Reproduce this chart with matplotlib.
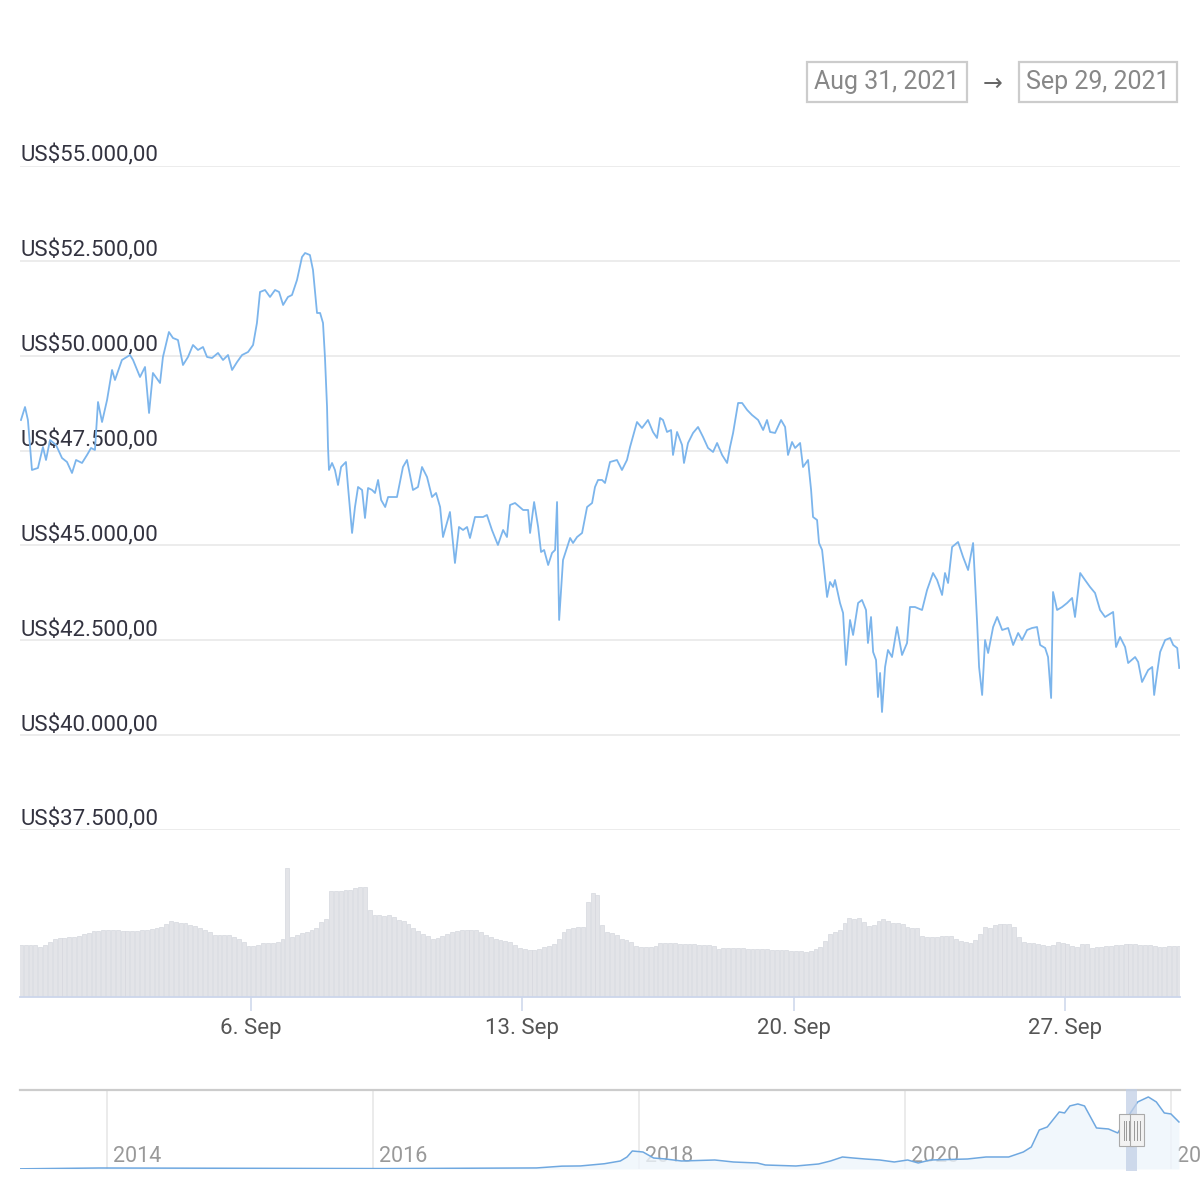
import numpy as np
import matplotlib
matplotlib.use("Agg")
import matplotlib.pyplot as plt
from matplotlib.patches import Rectangle

plt.rcParams['font.family'] = ['Roboto', 'DejaVu Sans']

# ---------------- data ----------------
# hours since 2021-08-31 00:00
price_hours = [1.6, 4.1, 5.9, 8.4, 12.1, 15.2, 17.1, 19.6, 23.3, 27.0, 30.1, 33.2, 35.7, 39.4, 42.5, 45.0,
               47.4, 49.3, 51.8, 54.9, 58.0, 59.8, 64.1, 69.1, 71.0, 75.3, 78.4, 80.9, 83.3, 87.7, 89.5, 93.2,
               95.7, 98.8, 101.9, 105.0, 108.1, 111.2, 114.3, 116.8, 119.9, 123.6, 126.7, 129.8, 132.3, 135.4,
               138.5, 142.2, 145.3, 147.7, 149.6, 152.7, 155.8, 158.9, 161.4, 163.9, 166.9, 169.4, 172.5, 175.6,
               177.5, 180.5, 182.4, 184.9, 186.8, 188.6, 189.8, 191.1, 191.7, 192.3, 194.2, 196.0, 197.9, 199.8,
               202.8, 204.1, 206.6, 208.4, 210.3, 212.8, 214.6, 216.5, 219.0, 220.8, 222.7, 224.6, 227.1, 228.9,
               234.4, 238.1, 240.6, 244.3, 247.4, 249.9, 253.0, 256.1, 258.6, 261.1, 262.9, 267.2, 270.3, 272.8,
               275.3, 277.8, 279.6, 282.7, 287.7, 290.1, 293.2, 296.9, 300.1, 302.5, 304.4, 307.5, 312.5, 315.6,
               316.8, 319.3, 321.8, 323.6, 325.5, 328.0, 330.4, 332.3, 333.5, 334.8, 337.2, 341.6, 343.4, 345.9,
               349.0, 352.1, 355.2, 357.0, 358.9, 361.4, 363.2, 366.3, 370.6, 373.7, 376.8, 378.7, 383.0, 386.1,
               389.8, 392.9, 395.4, 397.3, 399.1, 401.6, 404.1, 405.3, 407.8, 410.9, 412.1, 414.6, 417.7, 420.8,
               423.9, 427.0, 430.1, 432.6, 435.7, 438.8, 440.6, 442.5, 445.6, 448.1, 451.2, 454.2, 458.0, 461.1,
               463.5, 465.4, 468.5, 472.2, 474.7, 476.5, 479.0, 480.9, 484.0, 485.8, 488.9, 490.8, 492.0, 494.5,
               495.7, 497.6, 500.7, 502.5, 504.4, 505.6, 508.7, 510.6, 512.4, 514.9, 516.8, 519.9, 522.3, 524.8,
               526.0, 527.9, 529.2, 531.0, 532.2, 533.5, 534.7, 536.6, 538.4, 540.9, 544.0, 547.1, 550.2, 552.0,
               555.1, 559.5, 562.6, 566.3, 568.8, 571.9, 573.7, 575.6, 578.1, 581.8, 584.9, 588.0, 591.1, 593.6,
               594.8, 596.7, 598.5, 600.4, 603.5, 606.0, 609.1, 612.8, 615.9, 619.0, 621.4, 624.5, 627.6, 630.7,
               632.6, 635.7, 637.5, 639.4, 640.6, 643.1, 646.2, 649.3, 652.4, 654.2, 657.4, 660.4, 663.5, 666.6,
               669.7, 672.8, 677.8, 679.6, 682.1, 685.2, 687.1, 691.4, 693.3, 695.7, 699.5, 702.0, 703.2, 705.0,
               706.9, 710.0, 713.1, 715.0, 717.5, 718.7]

price_usd = [48306, 48648, 48306, 46988, 47041, 47594, 47252, 47779, 47647, 47304, 47199, 46909, 47252, 47173,
             47384, 47568, 47515, 48780, 48253, 48833, 49624, 49360, 49887, 50019, 49887, 49439, 49703, 48490,
             49545, 49281, 49966, 50625, 50467, 50414, 49755, 49966, 50283, 50151, 50230, 49966, 49940, 50072,
             49887, 50019, 49624, 49834, 50019, 50098, 50283, 50863, 51680, 51732, 51548, 51732, 51680, 51337,
             51548, 51600, 51996, 52602, 52707, 52654, 52259, 51126, 51126, 50863, 49966, 48648, 47594, 46988,
             47173, 46988, 46593, 47067, 47199, 46540, 45328, 46012, 46540, 46461, 45723, 46514, 46461, 46382,
             46725, 46197, 46012, 46276, 46276, 47067, 47252, 46461, 46540, 47067, 46804, 46276, 46382, 46012,
             45222, 45881, 44537, 45486, 45407, 45486, 45196, 45749, 45749, 45802, 45407, 45012, 45407, 45222,
             46065, 46118, 45934, 45934, 45328, 46144, 45486, 44827, 44880, 44484, 44801, 44880, 46144, 43036,
             44616, 45196, 45064, 45222, 45328, 46012, 46118, 46540, 46725, 46725, 46646, 47199, 47252, 46988,
             47252, 47594, 48253, 48095, 48306, 47990, 47832, 48359, 48306, 47990, 48042, 47384, 47990, 47647,
             47173, 47700, 47964, 48122, 47858, 47568, 47463, 47700, 47384, 47173, 47594, 47964, 48754, 48754,
             48570, 48438, 48306, 48042, 48306, 47990, 47964, 48306, 48122, 47384, 47726, 47568, 47700, 47067,
             47252, 46461, 45749, 45670, 45064, 44880, 43641, 44036, 43905, 44089, 43483, 43219, 41849, 43035,
             42640, 43483, 43562, 43298, 42428, 43114, 42191, 41980, 41005, 41638, 40610, 41796, 42244, 42059,
             42850, 42112, 42428, 43377, 43377, 43298, 43825, 44273, 44089, 43694, 44273, 44010, 44959, 45091,
             44695, 44352, 45064, 42955, 41796, 41058, 42507, 42165, 42850, 43114, 42771, 42824, 42376, 42692,
             42507, 42771, 42824, 42850, 42376, 42296, 42059, 40979, 43773, 43298, 43377, 43483, 43615, 43114,
             44273, 44089, 43905, 43747, 43298, 43114, 43246, 42323, 42587, 42323, 41901, 42059, 41928, 41401,
             41717, 41796, 41058, 41638, 42191, 42507, 42560, 42376, 42296, 41770]

# 3-hourly trading volume (arbitrary units), starting 2021-08-31 00:00
volume = [52, 52, 52, 52, 50, 52, 55, 58, 59, 59, 60, 60, 61, 63, 64, 66, 66, 67, 67, 67,
          67, 66, 66, 66, 66, 67, 67, 68, 69, 70, 73, 76, 75, 74, 74, 72, 71, 69, 67, 65,
          62, 62, 62, 62, 60, 58, 55, 51, 51, 52, 54, 54, 54, 55, 58, 129, 60, 62, 64, 65,
          67, 69, 75, 78, 106, 106, 106, 107, 107, 109, 110, 110, 87, 82, 82, 81, 82, 80, 77, 76,
          73, 69, 66, 63, 61, 58, 59, 61, 63, 65, 66, 67, 67, 67, 67, 65, 62, 60, 58, 57,
          56, 55, 52, 49, 48, 47, 47, 48, 50, 51, 53, 58, 65, 68, 69, 70, 70, 95, 104, 102,
          72, 65, 64, 62, 58, 57, 55, 51, 50, 50, 50, 51, 54, 54, 54, 54, 53, 53, 53, 53,
          52, 52, 52, 51, 48, 49, 49, 49, 49, 49, 48, 48, 48, 48, 48, 47, 47, 47, 47, 46,
          46, 46, 45, 46, 48, 50, 56, 63, 65, 67, 74, 79, 78, 79, 75, 71, 72, 76, 78, 76,
          74, 74, 73, 70, 69, 69, 61, 60, 60, 60, 61, 61, 61, 58, 56, 55, 54, 57, 63, 70,
          69, 72, 73, 73, 73, 70, 60, 55, 54, 54, 53, 52, 51, 52, 55, 54, 53, 51, 50, 53,
          53, 49, 50, 50, 51, 51, 52, 52, 53, 53, 53, 52, 52, 52, 51, 50, 50, 51, 51, 51]

y_ticks = [37500, 40000, 42500, 45000, 47500, 50000, 52500, 55000]
y_tick_labels = ["US$37.500,00", "US$40.000,00", "US$42.500,00", "US$45.000,00",
                 "US$47.500,00", "US$50.000,00", "US$52.500,00", "US$55.000,00"]
x_tick_hours = [144, 312, 480, 648]
x_tick_labels = ["6. Sep", "13. Sep", "20. Sep", "27. Sep"]
range_from = "Aug 31, 2021"
range_to = "Sep 29, 2021"

# navigator: long-run history (decimal year, USD)
nav_years = [2013.34, 2013.94, 2016.08, 2017.23, 2017.42, 2017.56, 2017.74, 2017.86, 2017.91, 2017.95,
             2018.03, 2018.11, 2018.20, 2018.32, 2018.57, 2018.71, 2018.89, 2018.95, 2019.18, 2019.35,
             2019.44, 2019.53, 2019.61, 2019.70, 2019.81, 2019.92, 2020.02, 2020.10, 2020.19, 2020.47,
             2020.61, 2020.78, 2020.89, 2020.95, 2021.01, 2021.07, 2021.16, 2021.20, 2021.24, 2021.30,
             2021.35, 2021.44, 2021.53, 2021.60, 2021.67, 2021.75, 2021.83, 2021.89, 2021.95, 2022.00, 2022.06]
nav_price = [150, 950, 400, 1000, 2700, 2900, 5000, 7600, 11400, 17100,
             16150, 10450, 9500, 7600, 8550, 6650, 5700, 3800, 2850, 4750,
             7600, 11400, 10450, 9500, 8550, 6650, 8550, 5700, 8550, 9500,
             11400, 11400, 16150, 20900, 37050, 39900, 54150, 53200, 59850, 61750,
             59850, 38950, 38000, 34200, 48450, 63650, 68400, 63650, 53200, 52250, 44650]
nav_year_ticks = [2014, 2016, 2018, 2020, 2022]
sel_start, sel_end = 2021.664, 2021.745

# ---------------- figure ----------------
W, H = 1200, 1200
fig = plt.figure(figsize=(12, 12), dpi=100)
fig.patch.set_facecolor('white')

def fx(px):
    return px / W

def fy(py):
    return 1 - py / H

left, right = 20, 1180
xlim = (1.0, 719.2)

# price axes
axp = fig.add_axes([fx(left), fy(830), fx(right - left), fy(166) - fy(830)])
axp.set_xlim(*xlim)
axp.set_ylim(37500, 55000)
axp.patch.set_alpha(0)
for s in axp.spines.values():
    s.set_visible(False)
axp.set_xticks([])
axp.set_yticks([])
for v, lab in zip(y_ticks, y_tick_labels):
    axp.axhline(v, color='#e9e9e9', lw=1.2, zorder=0)
    axp.annotate(lab, xy=(0.0, v), xycoords=('axes fraction', 'data'),
                 xytext=(0.7, 3.0), textcoords='offset points',
                 ha='left', va='baseline', fontsize=16, color='#333340', zorder=1)
axp.plot(price_hours, price_usd, color='#7cb5ec', lw=1.3, zorder=3, solid_joinstyle='round')

# volume axes
axv = fig.add_axes([fx(left), fy(997), fx(right - left), fy(835) - fy(997)])
axv.set_xlim(*xlim)
axv.set_ylim(0, 162)
axv.patch.set_alpha(0)
vol_x = np.arange(len(volume)) * 3 + 1.5
axv.bar(vol_x, volume, width=2.4, color='#e3e4e8', edgecolor='#d6d8de', linewidth=0.5, zorder=1)
for k in ['top', 'right', 'left']:
    axv.spines[k].set_visible(False)
axv.spines['bottom'].set_color('#ccd6eb')
axv.spines['bottom'].set_linewidth(1.3)
axv.set_yticks([])
axv.set_xticks(x_tick_hours)
axv.set_xticklabels(x_tick_labels, fontsize=16, color='#555555')
axv.tick_params(axis='x', length=10, width=1.1, color='#ccd6eb', pad=5)

# range selector boxes
def box(cx_px, w_px, text):
    r = Rectangle((fx(cx_px - w_px / 2), fy(102)), fx(w_px), fy(62) - fy(102),
                  transform=fig.transFigure, facecolor='white', edgecolor='#cccccc', lw=1.6)
    fig.patches.append(r)
    fig.text(fx(cx_px), fy(82), text, ha='center', va='center', fontsize=18, color='#888888')

box(887, 160, range_from)
box(1098, 158, range_to)
fig.text(fx(993), fy(84), "→", ha='center', va='center', fontsize=17, color='#666666',
         family=['DejaVu Sans'])

# navigator
axn = fig.add_axes([fx(left), fy(1169), fx(right - left), fy(1090) - fy(1169)])
axn.set_xlim(2013.346, 2022.068)
axn.set_ylim(0, 75000)
axn.patch.set_alpha(0)
for k in ['bottom', 'right', 'left']:
    axn.spines[k].set_visible(False)
axn.spines['top'].set_color('#cccccc')
axn.spines['top'].set_linewidth(1.6)
axn.set_xticks([])
axn.set_yticks([])
for yr in nav_year_ticks:
    axn.axvline(yr, color='#e6e6e6', lw=1.1, zorder=0)
    axn.annotate(str(yr), xy=(yr, 0), xycoords='data', xytext=(4.5, 9), textcoords='offset points',
                 ha='left', va='center', fontsize=15.5, color='#999999', annotation_clip=False,
                 zorder=1)
axn.fill_between(nav_years, nav_price, 0, color='#eef5fc', alpha=0.8, zorder=1, lw=0)
axn.plot(nav_years, nav_price, color='#6fa8e0', lw=1.1, zorder=2)
# selected range mask
axn.add_patch(Rectangle((sel_start, -2000), sel_end - sel_start, 78000, facecolor='#c2cfe6',
                        edgecolor='none', alpha=0.75, zorder=3, clip_on=False))
# handles
hw = 0.105
for xc in (sel_start, sel_end):
    axn.add_patch(Rectangle((xc - hw / 2 - 0.003, 22000), hw, 30000, facecolor='#f2f2f2',
                            edgecolor='#aaaaaa', lw=0.8, zorder=4))
    for d in (-0.02, 0.0, 0.02):
        axn.plot([xc + d, xc + d], [28000, 46000], color='#999999', lw=0.7, zorder=5)

fig.savefig('out.png', dpi=100, facecolor='white')
